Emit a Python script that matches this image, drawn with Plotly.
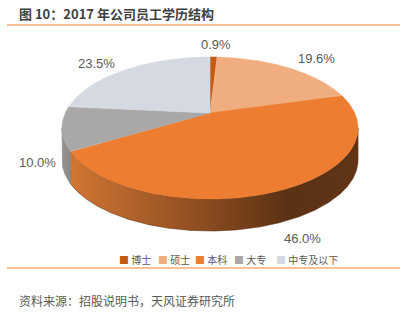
import math
import plotly.graph_objects as go

# ---------------- data ----------------
categories = ["博士", "硕士", "本科", "大专", "中专及以下"]
shares = [0.9, 19.6, 46.0, 10.0, 23.5]
value_labels = ["0.9%", "19.6%", "46.0%", "10.0%", "23.5%"]

title_text = "图 10：2017 年公司员工学历结构"
source_text = "资料来源：招股说明书，天风证券研究所"

# ---------------- styles ----------------
top_colors = ["#C55A11", "#F0AE80", "#EC7D31", "#AAA8A6", "#D5DAE2"]
side_scales = [
    [[0, "#8F3F0B"], [1, "#5E2A06"]],
    [[0, "#B87F57"], [1, "#6E4A30"]],
    [[0, "#D07633"], [0.45, "#8E4D20"], [0.75, "#5C3214"], [1, "#603415"]],
    [[0, "#96938F"], [1, "#8A8886"]],
    [[0, "#A3A8AE"], [1, "#8A8F95"]],
]
label_shift = [(2, -4), (16, -1), (3, -4), (7, -1), (-15, 1)]
legend_x = [117, 156, 193, 232, 274]

W, H = 400, 322
CX, CY = 210.0, 113.0          # projected centre of top face
A, B, K = 144.7, 67.83, -0.2113  # perspective projection of the disc
DEPTH = 32.0
TEXT = "#595959"
CJK = "Noto Sans CJK SC"


def proj(theta_deg, r=1.0, drop=0.0):
    t = math.radians(theta_deg)
    u = r * math.sin(t)
    v = -r * math.cos(t)
    w = 1 + K * v
    return CX + A * u / w, CY + B * v / w + drop


def arc(a, b, drop=0.0, step=0.5):
    n = max(2, int(abs(b - a) / step) + 1)
    pts = [proj(a + (b - a) * i / (n - 1), 1.0, drop) for i in range(n)]
    return [p[0] for p in pts], [p[1] for p in pts]


total = sum(shares)
starts, ends = [], []
acc = 0.0
for s in shares:
    starts.append(acc / total * 360)
    acc += s
    ends.append(acc / total * 360)

sil1 = math.degrees(math.acos(K))
sil2 = 360 - sil1

fig = go.Figure()

# side walls
for i in range(len(shares)):
    a = max(starts[i], sil1)
    b = min(ends[i], sil2)
    if b <= a:
        continue
    tx, ty = arc(a, b)
    bx, by = arc(b, a, DEPTH)
    fig.add_trace(go.Scatter(
        x=tx + bx + [tx[0]], y=ty + by + [ty[0]],
        mode="lines", fill="toself",
        line=dict(width=0.6, color=side_scales[i][-1][1]),
        fillgradient=dict(type="horizontal", colorscale=side_scales[i]),
        hoverinfo="skip", showlegend=False))

# top faces
for i in range(len(shares)):
    ax, ay = arc(starts[i], ends[i], step=0.3)
    xs = [CX] + ax + [CX]
    ys = [CY] + ay + [CY]
    fig.add_trace(go.Scatter(
        x=xs, y=ys, mode="lines", fill="toself", fillcolor=top_colors[i],
        line=dict(width=0.6, color=top_colors[i]),
        name=categories[i], hoverinfo="skip", showlegend=False))

annotations = []
# value labels
for i in range(len(shares)):
    mid = (starts[i] + ends[i]) / 2
    lx, ly = proj(mid, 1.2)
    if -math.cos(math.radians(mid)) > 0:
        ly += DEPTH
    dx, dy = label_shift[i]
    annotations.append(dict(
        x=lx + dx, y=ly + dy, text=value_labels[i], showarrow=False,
        xanchor="center", yanchor="middle",
        font=dict(family="Liberation Sans", size=13, color=TEXT)))

# legend
for i in range(len(categories)):
    annotations.append(dict(
        x=legend_x[i], y=259, xanchor="left", yanchor="middle", showarrow=False,
        text=f'<span style="color:{top_colors[i]}">■</span> {categories[i]}',
        font=dict(family=CJK, size=10, color=TEXT)))

# title and source
annotations.append(dict(
    x=17, y=13, xanchor="left", yanchor="middle", showarrow=False,
    text=f"<b>{title_text}</b>", font=dict(family=CJK, size=13, color="#404040")))
annotations.append(dict(
    x=17, y=300, xanchor="left", yanchor="middle", showarrow=False,
    text=source_text, font=dict(family=CJK, size=12, color=TEXT)))

shapes = [
    dict(type="line", x0=7, x1=400, y0=25, y1=25, line=dict(color="#F5AB73", width=1.5)),
    dict(type="line", x0=7, x1=400, y0=268, y1=268, line=dict(color="#F5AB73", width=1.5)),
]

fig.update_layout(
    width=W, height=H, margin=dict(l=0, r=0, t=0, b=0),
    paper_bgcolor="white", plot_bgcolor="white",
    xaxis=dict(range=[0, W], visible=False, fixedrange=True),
    yaxis=dict(range=[H, 0], visible=False, fixedrange=True),
    annotations=annotations, shapes=shapes, showlegend=False,
)

fig.write_html("out.html")
